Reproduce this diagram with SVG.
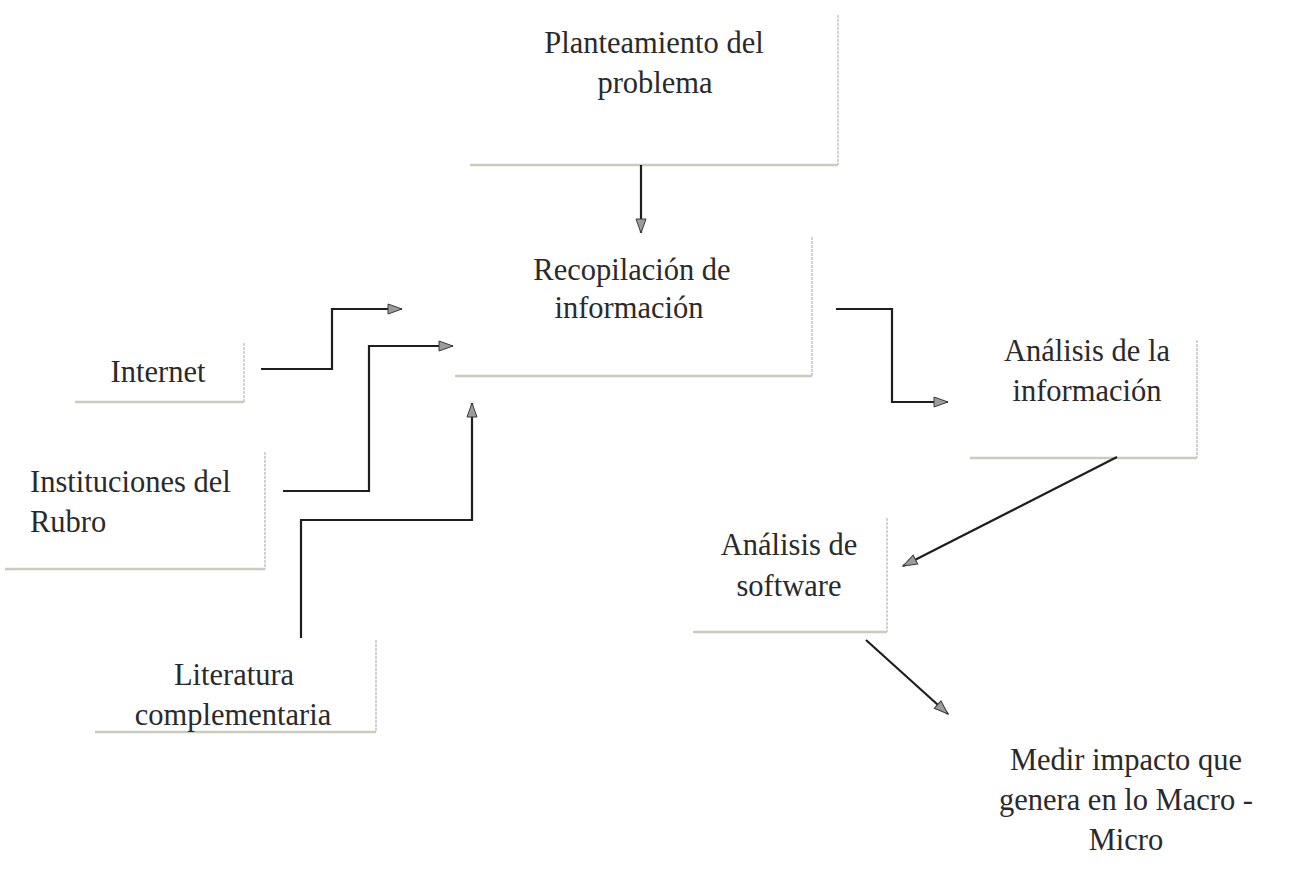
<svg xmlns="http://www.w3.org/2000/svg" width="1307" height="877" viewBox="0 0 1307 877">
<style>
  .bg { fill: #ffffff; }
  .edge-r { stroke: #c4c4c4; stroke-width: 1.5; fill: none; stroke-dasharray: 3 1; }
  .edge-b { stroke: #cbcbbd; stroke-width: 2.5; fill: none; }
  .lbl { font-family: "Liberation Serif", "Times New Roman", serif; font-size: 30.5px; fill: #2a2a2a; }
  .c { text-anchor: middle; }
  .conn { stroke: #1e1e1e; stroke-width: 2.2; fill: none; marker-end: url(#ah); }
</style>
<defs>
  <marker id="ah" markerUnits="userSpaceOnUse" markerWidth="16" markerHeight="12" refX="15" refY="6" orient="auto">
    <path d="M1,1 L15,6 L1,11 z" fill="#9c9c9c" stroke="#3a3a3a" stroke-width="1"/>
  </marker>
</defs>
<rect class="bg" x="0" y="0" width="1307" height="877"/>

<g id="node-planteamiento">
  <path class="edge-r" d="M838,15 V165"/>
  <path class="edge-b" d="M470,165 H838"/>
  <text class="lbl c" x="654" y="53">Planteamiento del</text>
  <text class="lbl c" x="655" y="93">problema</text>
</g>

<g id="node-recopilacion">
  <path class="edge-r" d="M812,237 V376"/>
  <path class="edge-b" d="M455,376 H812"/>
  <text class="lbl c" x="632" y="280">Recopilación de</text>
  <text class="lbl c" x="629" y="318">información</text>
</g>

<g id="node-internet">
  <path class="edge-r" d="M244,343 V402"/>
  <path class="edge-b" d="M75,402 H244"/>
  <text class="lbl c" x="158" y="382">Internet</text>
</g>

<g id="node-instituciones">
  <path class="edge-r" d="M265,452 V569"/>
  <path class="edge-b" d="M5,569 H265"/>
  <text class="lbl" x="30" y="492">Instituciones del</text>
  <text class="lbl" x="30" y="532">Rubro</text>
</g>

<g id="node-literatura">
  <path class="edge-r" d="M376,640 V732"/>
  <path class="edge-b" d="M95,732 H376"/>
  <text class="lbl c" x="234" y="685">Literatura</text>
  <text class="lbl c" x="233" y="725">complementaria</text>
</g>

<g id="node-analisis-info">
  <path class="edge-r" d="M1197,340 V458"/>
  <path class="edge-b" d="M970,458 H1197"/>
  <text class="lbl c" x="1087" y="361">Análisis de la</text>
  <text class="lbl c" x="1087" y="401">información</text>
</g>

<g id="node-analisis-software">
  <path class="edge-r" d="M887,518 V632"/>
  <path class="edge-b" d="M693,632 H887"/>
  <text class="lbl c" x="789" y="555">Análisis de</text>
  <text class="lbl c" x="789" y="596">software</text>
</g>

<g id="node-medir">
  <text class="lbl c" x="1126" y="770">Medir impacto que</text>
  <text class="lbl c" x="1126" y="810">genera en lo Macro -</text>
  <text class="lbl c" x="1126" y="850">Micro</text>
</g>

<g id="connectors">
  <path class="conn" d="M641,165 V233"/>
  <path class="conn" d="M261,369 H332 V309 H402"/>
  <path class="conn" d="M283,491 H369 V346 H453"/>
  <path class="conn" d="M301,638 V520 H472 V403"/>
  <path class="conn" d="M836,309 H892 V402 H948"/>
  <path class="conn" d="M1117,457 L903,566"/>
  <path class="conn" d="M866,640 L948,714"/>
</g>
</svg>
